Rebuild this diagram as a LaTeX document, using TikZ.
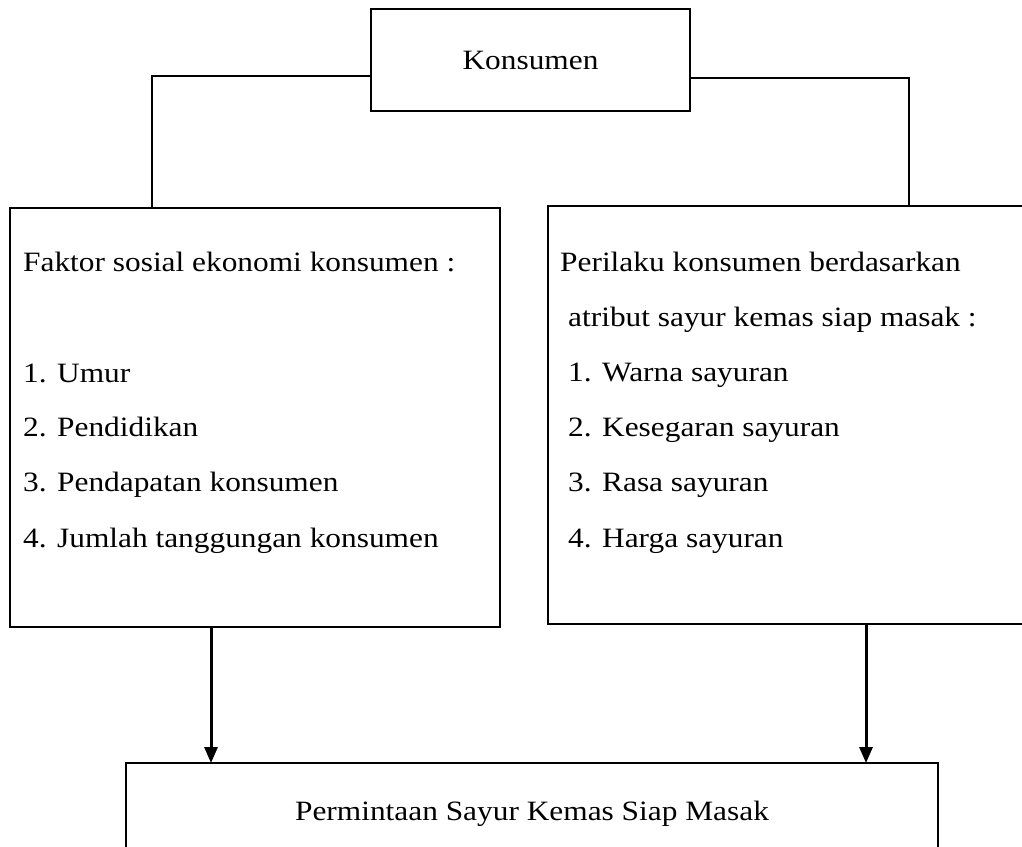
\documentclass[tikz,border=0pt]{standalone}
\usepackage{fontspec}
\setmainfont{Liberation Serif}[FakeStretch=1.12]
\usetikzlibrary{arrows.meta,positioning}

\begin{document}
\begin{tikzpicture}[x=1pt, y=-1pt, >={Triangle[length=16pt, width=13pt]}, font=\fontsize{28}{34}\selectfont]
    \tikzset{
        box/.style={draw, line width=2pt, inner sep=0pt, outer sep=0pt},
        txt/.style={anchor=base west, inner sep=0pt},
        link/.style={line width=2pt},
        flow/.style={->, line width=3pt}
    }
    \useasboundingbox (0,0) rectangle (1022,846);
    % boxes
    \node (kons) [box, minimum width=319pt, minimum height=102pt] at (530.5,60) {Konsumen};
    \node (faktor) [box, anchor=north west, minimum width=490pt, minimum height=419pt] at (10,208) {};
    \node (perilaku) [box, anchor=north west, minimum width=490pt, minimum height=418pt] at (548,206) {};
    \node (minta) [box, anchor=north west, minimum width=812pt, minimum height=101pt] at (126,763) {Permintaan Sayur Kemas Siap Masak};
    % left box text
    \node (f0) [txt] at (23,271) {Faktor sosial ekonomi konsumen :};
    \node (f1) [txt] at (23,382) {1. Umur};
    \node (f2) [txt] at (23,436) {2. Pendidikan};
    \node (f3) [txt] at (23,491) {3. Pendapatan konsumen};
    \node (f4) [txt] at (23,547) {4. Jumlah tanggungan konsumen};
    % right box text
    \node (p0) [txt] at (560,271) {Perilaku konsumen berdasarkan};
    \node (p1) [txt] at (568,326) {atribut sayur kemas siap masak :};
    \node (p2) [txt] at (568,381) {1. Warna sayuran};
    \node (p3) [txt] at (568,436) {2. Kesegaran sayuran};
    \node (p4) [txt] at (568,491) {3. Rasa sayuran};
    \node (p5) [txt] at (568,547) {4. Harga sayuran};
    % connectors
    \draw[link] ([yshift=-16pt]kons.west) -| ([xshift=142pt]faktor.north west);
    \draw[link] ([yshift=-18pt]kons.east) -| ([xshift=361pt]perilaku.north west);
    \draw[flow] ([xshift=201pt]faktor.south west) -- ([xshift=201pt]faktor.south west |- minta.north);
    \draw[flow] ([xshift=318pt]perilaku.south west) -- ([xshift=318pt]perilaku.south west |- minta.north);
\end{tikzpicture}
\end{document}
